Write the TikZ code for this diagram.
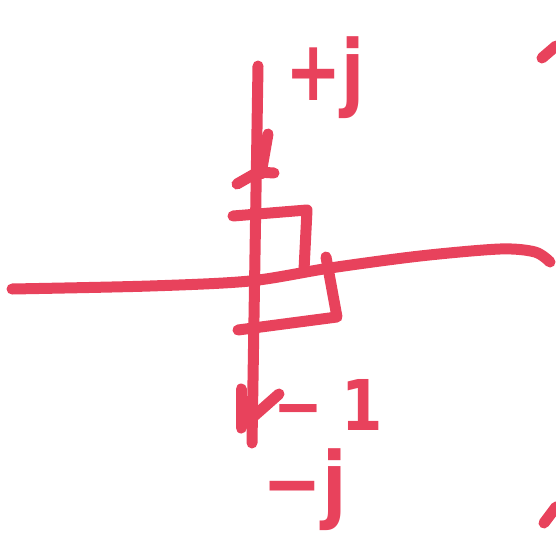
\documentclass[tikz,border=0pt]{standalone}
\usepackage{fontspec}
\setmainfont{DejaVu Sans}
\begin{document}
\begin{tikzpicture}[x=1pt,y=-1pt,
  ink/.style={draw=inkred,line width=11pt,line cap=round,line join=round},
  lbl/.style={text=inkred,inner sep=0pt,font=\bfseries\fontsize{84}{84}\selectfont}]
\definecolor{inkred}{RGB}{232,66,92}
\useasboundingbox (0,0) rectangle (556,543);
% horizontal axis
\draw[ink] plot[smooth] coordinates {(12,289) (150,286) (250,281) (330,268) (420,256) (500,249) (535,252) (550,262)};
% vertical axis
\coordinate (vt) at (258,66);
\coordinate (vb) at (252,443);
\draw[ink] (vt) -- (vb);
% arrow marks
\draw[ink] (268,134) -- (261,174);
\draw[ink] (237,184) -- (258,172) -- (274,173);
\draw[ink] (241,389) -- (241,428);
\draw[ink] (253,417) -- (279,394);
% box
\draw[ink] (233,216) -- (307,210) -- (304,270);
\draw[ink] (326,257) -- (337,317) -- (238,330);
% corner marks
\draw[ink] (542,58) -- (556,46);
\draw[ink] (544,523) -- (556,507);
% labels
\node[lbl,xscale=0.8] (pj) at (325,78) {+j};
\node[lbl,font=\bfseries\fontsize{70}{70}\selectfont,xscale=0.85] (m1) at (328,405) {−\hspace{22pt}1};
\node[lbl,xscale=0.85] (mj) at (305,490) {−j};
\end{tikzpicture}
\end{document}
